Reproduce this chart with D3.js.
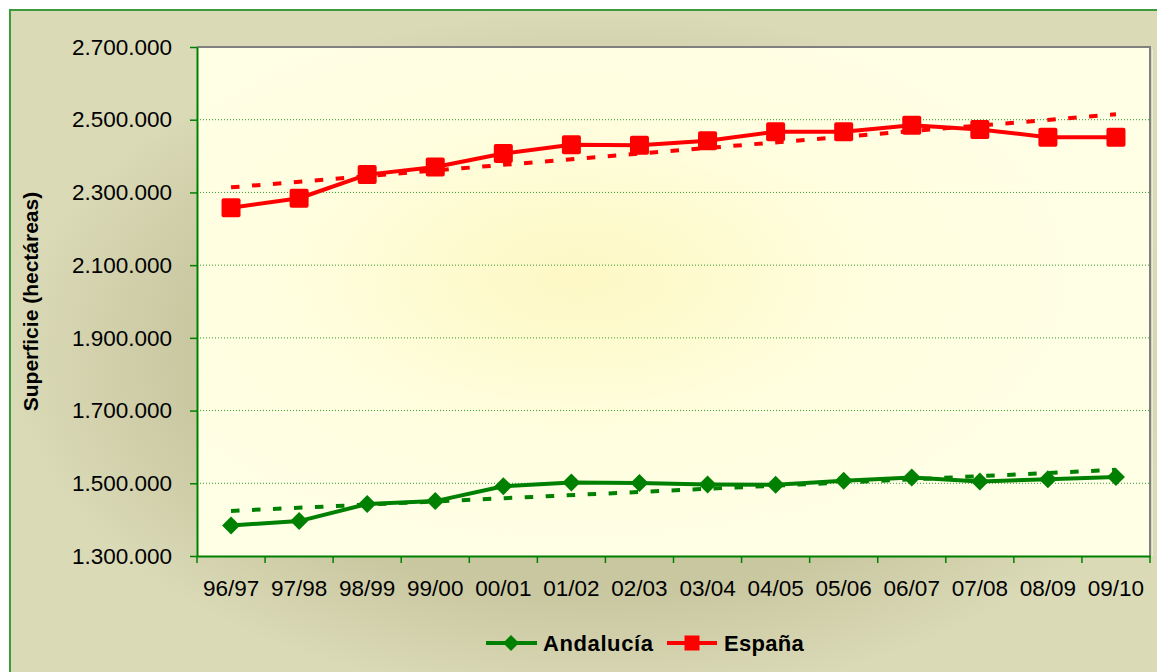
<!DOCTYPE html>
<html><head><meta charset="utf-8">
<script src="https://cdn.jsdelivr.net/npm/d3@7"></script>
<style>
html,body{margin:0;padding:0;background:#fff;}
svg{display:block;font-family:"Liberation Sans",Arial,sans-serif;}
</style></head>
<body>
<svg id="c" width="1157" height="672"></svg>
<script>
const categories = ["96/97","97/98","98/99","99/00","00/01","01/02","02/03","03/04","04/05","05/06","06/07","07/08","08/09","09/10"];
const espana = [2258000,2284000,2349000,2370000,2407000,2431000,2430000,2442000,2467000,2467000,2485000,2473000,2452000,2452000];
const andalucia = [1384000,1396000,1443000,1451000,1492000,1502000,1501000,1497000,1496000,1507000,1516000,1505000,1511000,1517000];
const trendEspana = [2314000,2515000];
const trendAndalucia = [1424000,1537000];
const yTicks = [1300000,1500000,1700000,1900000,2100000,2300000,2500000,2700000];
const yTitle = "Superficie (hectáreas)";
const seriesNames = ["Andalucía","España"];

const svg = d3.select("#c");
const W = 1157, H = 672;
const P = {l:197, r:1150, t:47, b:556};
const RED = "#ff0000", GREEN = "#008000";

const defs = svg.append("defs");
const bg = defs.append("radialGradient").attr("id","bg").attr("cx","50%").attr("cy","50%").attr("r","50%");
bg.append("stop").attr("offset","0").attr("stop-color","#bfbe94");
bg.append("stop").attr("offset","0.7").attr("stop-color","#c9c8a1");
bg.append("stop").attr("offset","1").attr("stop-color","#dbdab7");
const pg = defs.append("radialGradient").attr("id","pg").attr("cx","40%").attr("cy","45%").attr("r","55%");
pg.append("stop").attr("offset","0").attr("stop-color","#fdf8c4");
pg.append("stop").attr("offset","0.6").attr("stop-color","#fffee0");
pg.append("stop").attr("offset","1").attr("stop-color","#ffffe6");

// outer chart area
svg.append("rect").attr("x",10).attr("y",10).attr("width",W+20).attr("height",H+20)
  .attr("fill","url(#bg)").attr("stroke","#3c9c3c").attr("stroke-width",2);

// plot area
svg.append("rect").attr("x",P.l).attr("y",P.t).attr("width",P.r-P.l).attr("height",P.b-P.t).attr("fill","url(#pg)");

const x = d3.scaleBand().domain(categories).range([P.l,P.r]).paddingInner(0).paddingOuter(0);
const y = d3.scaleLinear().domain([1300000,2700000]).range([P.b,P.t]);
const cx = c => x(c) + x.bandwidth()/2;

const loc = d3.formatLocale({thousands:".", grouping:[3], decimal:",", currency:["",""]});
const fmt = loc.format(",d");

// gridlines
svg.append("g").selectAll("line").data(yTicks.filter(v=>v>1300000 && v<2700000)).join("line")
  .attr("x1",P.l).attr("x2",P.r).attr("y1",d=>y(d)).attr("y2",d=>y(d))
  .attr("stroke","#2f9a2f").attr("stroke-width",1).attr("stroke-dasharray","1,2");

// plot border top/right
svg.append("line").attr("x1",P.l).attr("x2",P.r+1).attr("y1",P.t).attr("y2",P.t).attr("stroke","#808080").attr("stroke-width",2);
svg.append("line").attr("x1",P.r).attr("x2",P.r).attr("y1",P.t).attr("y2",P.b).attr("stroke","#808080").attr("stroke-width",2);
svg.append("line").attr("x1",P.r+2.5).attr("x2",P.r+2.5).attr("y1",P.t+2).attr("y2",P.b).attr("stroke","#ecebd8").attr("stroke-width",1);

// Y axis
const yAxis = svg.append("g").attr("transform",`translate(${P.l},0)`)
  .call(d3.axisLeft(y).tickValues(yTicks).tickFormat(fmt).tickSize(7).tickSizeOuter(0).tickPadding(18));
yAxis.select(".domain").attr("stroke",GREEN).attr("stroke-width",2);
yAxis.selectAll(".tick line").attr("stroke",GREEN).attr("stroke-width",1.5);
yAxis.selectAll(".tick text").attr("fill","#000").style("font-size","22.5px").style("font-family","'Liberation Sans',Arial,sans-serif");

// X axis
const xAxis = svg.append("g").attr("transform",`translate(0,${P.b})`)
  .call(d3.axisBottom(x).tickSize(0).tickSizeOuter(0).tickPadding(24));
xAxis.select(".domain").attr("stroke",GREEN).attr("stroke-width",2);
xAxis.selectAll(".tick text").attr("fill","#000").style("font-size","22.5px").style("font-family","'Liberation Sans',Arial,sans-serif");
const bounds = categories.map(c=>x(c)).concat([x.range()[1]]);
xAxis.append("g").selectAll("line").data(bounds).join("line")
  .attr("x1",d=>d).attr("x2",d=>d).attr("y1",0).attr("y2",7)
  .attr("stroke",GREEN).attr("stroke-width",1.5);

// Y title
svg.append("text").attr("transform",`translate(38,${(P.t+P.b)/2}) rotate(-90)`)
  .attr("text-anchor","middle").style("font-size","21px").style("font-weight","bold").text(yTitle);

// trend lines
const first = categories[0], last = categories[categories.length-1];
function trend(vals,color){
  svg.append("line").attr("x1",cx(first)).attr("x2",cx(last))
    .attr("y1",y(vals[0])).attr("y2",y(vals[1]))
    .attr("stroke",color).attr("stroke-width",4).attr("stroke-dasharray","8.5,12.5");
}
trend(trendEspana,RED);
trend(trendAndalucia,GREEN);

// series lines
const line = d3.line().x((d,i)=>cx(categories[i])).y(d=>y(d));
svg.append("path").datum(espana).attr("d",line).attr("fill","none").attr("stroke",RED).attr("stroke-width",4).attr("stroke-linejoin","round");
svg.append("path").datum(andalucia).attr("d",line).attr("fill","none").attr("stroke",GREEN).attr("stroke-width",4).attr("stroke-linejoin","round");

// markers
const sq = 19;
svg.append("g").selectAll("rect").data(espana).join("rect")
  .attr("x",(d,i)=>cx(categories[i])-sq/2).attr("y",d=>y(d)-sq/2).attr("width",sq).attr("height",sq)
  .attr("rx",2).attr("fill",RED);
const dia = 9;
svg.append("g").selectAll("path").data(andalucia).join("path")
  .attr("d",(d,i)=>{const px=cx(categories[i]), py=y(d); return `M${px},${py-dia}L${px+dia},${py}L${px},${py+dia}L${px-dia},${py}Z`;})
  .attr("fill",GREEN);

// legend
const lg = svg.append("g");
lg.append("line").attr("x1",486).attr("x2",537).attr("y1",643).attr("y2",643).attr("stroke",GREEN).attr("stroke-width",4);
lg.append("path").attr("d","M511,635L519,643L511,651L503,643Z").attr("fill",GREEN);
lg.append("text").attr("x",543).attr("y",651).style("font-size","22px").style("font-weight","bold").style("letter-spacing","0.6px").text(seriesNames[0]);
lg.append("line").attr("x1",667).attr("x2",717).attr("y1",643).attr("y2",643).attr("stroke",RED).attr("stroke-width",4);
lg.append("rect").attr("x",684.5).attr("y",635.5).attr("width",15).attr("height",15).attr("fill",RED);
lg.append("text").attr("x",724).attr("y",651).style("font-size","22px").style("font-weight","bold").style("letter-spacing","0.3px").text(seriesNames[1]);
</script>
</body></html>
